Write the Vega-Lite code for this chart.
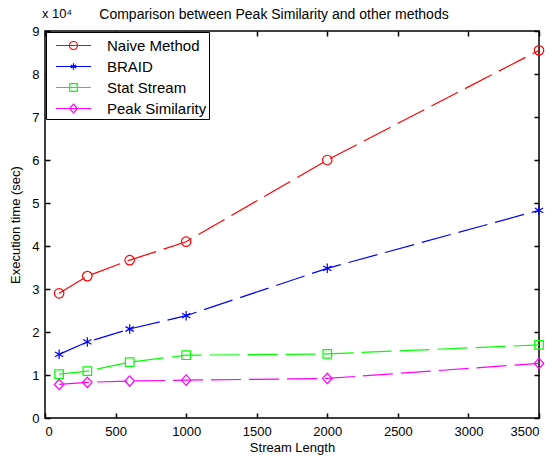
{
  "$schema": "https://vega.github.io/schema/vega-lite/v6.json",
  "width": 494,
  "height": 387,
  "autosize": {"type": "none"},
  "padding": {"left": 45, "top": 31, "right": 13, "bottom": 41},
  "background": "white",
  "config": {
    "font": "Liberation Sans",
    "view": {"stroke": "black", "strokeWidth": 1.5},
    "axis": {
      "grid": false,
      "domain": false,
      "tickColor": "black",
      "tickWidth": 1.5,
      "tickSize": -5,
      "labelColor": "black",
      "labelFont": "Liberation Sans",
      "labelFontSize": 13,
      "titleFont": "Liberation Sans",
      "titleFontSize": 13,
      "titleFontWeight": "normal",
      "titleColor": "black"
    },
    "legend": {
      "labelFont": "Liberation Sans",
      "labelFontSize": 15,
      "labelColor": "black"
    }
  },
  "title": {
    "text": "Comparison between Peak Similarity and other methods",
    "fontSize": 14,
    "fontWeight": "normal",
    "color": "black",
    "font": "Liberation Sans",
    "baseline": "alphabetic",
    "anchor": "middle",
    "dx": -18,
    "offset": 0,
    "dy": 25
  },
  "data": {
    "values": [
      {"method": "Naive Method", "length": 100, "time": 29000},
      {"method": "Naive Method", "length": 300, "time": 33000},
      {"method": "Naive Method", "length": 600, "time": 36700},
      {"method": "Naive Method", "length": 1000, "time": 41000},
      {"method": "Naive Method", "length": 2000, "time": 60000},
      {"method": "Naive Method", "length": 3500, "time": 85500},
      {"method": "BRAID", "length": 100, "time": 14800},
      {"method": "BRAID", "length": 300, "time": 17700},
      {"method": "BRAID", "length": 600, "time": 20700},
      {"method": "BRAID", "length": 1000, "time": 23800},
      {"method": "BRAID", "length": 2000, "time": 34800},
      {"method": "BRAID", "length": 3500, "time": 48300},
      {"method": "Stat Stream", "length": 100, "time": 10200},
      {"method": "Stat Stream", "length": 300, "time": 10900},
      {"method": "Stat Stream", "length": 600, "time": 13000},
      {"method": "Stat Stream", "length": 1000, "time": 14600},
      {"method": "Stat Stream", "length": 2000, "time": 14900},
      {"method": "Stat Stream", "length": 3500, "time": 17000},
      {"method": "Peak Similarity", "length": 100, "time": 7800},
      {"method": "Peak Similarity", "length": 300, "time": 8300},
      {"method": "Peak Similarity", "length": 600, "time": 8600},
      {"method": "Peak Similarity", "length": 1000, "time": 8800},
      {"method": "Peak Similarity", "length": 2000, "time": 9200},
      {"method": "Peak Similarity", "length": 3500, "time": 12700}
    ]
  },
  "resolve": {
    "scale": {"shape": "independent", "color": "independent"},
    "axis": {"x": "independent", "y": "independent"}
  },
  "layer": [
    {
      "mark": {"type": "line", "strokeWidth": 1.2, "strokeDash": [30, 8]},
      "encoding": {
        "x": {
          "field": "length", "type": "quantitative",
          "scale": {"domain": [0, 3500], "nice": false},
          "axis": {
            "values": [0, 500, 1000, 1500, 2000, 2500, 3000, 3500],
            "format": "d",
            "labelPadding": 12,
            "title": "Stream Length",
            "titlePadding": 3
          }
        },
        "y": {
          "field": "time", "type": "quantitative",
          "scale": {"domain": [0, 90000], "nice": false},
          "axis": {
            "values": [0, 10000, 20000, 30000, 40000, 50000, 60000, 70000, 80000, 90000],
            "labelExpr": "format(datum.value / 10000, 'd')",
            "labelPadding": 11,
            "title": "Execution time (sec)",
            "titlePadding": 9
          }
        },
        "detail": {"field": "method"},
        "color": {
          "field": "method", "type": "nominal",
          "scale": {
            "domain": ["Naive Method", "BRAID", "Stat Stream", "Peak Similarity"],
            "range": ["#ff0000", "#0000ff", "#00ff00", "#ff00ff"]
          },
          "legend": null
        }
      }
    },
    {
      "mark": {"type": "point", "filled": false, "strokeWidth": 1.2, "opacity": 1, "size": 90},
      "encoding": {
        "x": {
          "field": "length", "type": "quantitative",
          "scale": {"domain": [0, 3500], "nice": false},
          "axis": {
            "orient": "top",
            "values": [0, 500, 1000, 1500, 2000, 2500, 3000, 3500],
            "labels": false,
            "title": null
          }
        },
        "y": {
          "field": "time", "type": "quantitative",
          "scale": {"domain": [0, 90000], "nice": false},
          "axis": {
            "orient": "right",
            "values": [0, 10000, 20000, 30000, 40000, 50000, 60000, 70000, 80000, 90000],
            "labels": false,
            "title": null
          }
        },
        "color": {
          "field": "method", "type": "nominal",
          "scale": {
            "domain": ["Naive Method", "BRAID", "Stat Stream", "Peak Similarity"],
            "range": ["#ff0000", "#0000ff", "#00ff00", "#ff00ff"]
          },
          "legend": null
        },
        "shape": {
          "field": "method", "type": "nominal",
          "scale": {
            "domain": ["Naive Method", "BRAID", "Stat Stream", "Peak Similarity"],
            "range": [
              "M1,0A1,1 0 1,1 -1,0A1,1 0 1,1 1,0Z",
              "M0,-1L0,1M-0.87,-0.5L0.87,0.5M-0.87,0.5L0.87,-0.5",
              "M-0.9,-0.9L0.9,-0.9L0.9,0.9L-0.9,0.9Z",
              "M0,-1.1L1,0L0,1.1L-1,0Z"
            ]
          },
          "legend": null
        }
      }
    },
    {
      "mark": {"type": "point", "filled": false, "strokeWidth": 1.2, "opacity": 0},
      "encoding": {
        "x": {"field": "length", "type": "quantitative", "scale": {"domain": [0, 3500], "nice": false}, "axis": null},
        "y": {"field": "time", "type": "quantitative", "scale": {"domain": [0, 90000], "nice": false}, "axis": null},
        "color": {
          "field": "method", "type": "nominal",
          "scale": {
            "domain": ["Naive Method", "BRAID", "Stat Stream", "Peak Similarity"],
            "range": ["#ff0000", "#0000ff", "#00ff00", "#ff00ff"]
          },
          "legend": {
            "title": null,
            "orient": "top-left",
            "offset": 1,
            "padding": 2,
            "strokeColor": "black",
            "fillColor": "white",
            "symbolSize": 441,
            "symbolOffset": 14,
            "symbolOpacity": 1,
            "symbolStrokeWidth": 1.2,
            "symbolFillColor": "transparent",
            "labelOffset": 22,
            "rowPadding": 1
          }
        },
        "shape": {
          "field": "method", "type": "nominal",
          "scale": {
            "domain": ["Naive Method", "BRAID", "Stat Stream", "Peak Similarity"],
            "range": [
              "M-1.67,0L1.67,0M0.38,0A0.38,0.38 0 1,1 -0.38,0A0.38,0.38 0 1,1 0.38,0",
              "M-1.67,0L1.67,0M0,-0.3L0,0.3M-0.26,-0.15L0.26,0.15M-0.26,0.15L0.26,-0.15",
              "M-1.67,0L1.67,0M-0.36,-0.36L0.36,-0.36L0.36,0.36L-0.36,0.36Z",
              "M-1.67,0L1.67,0M0,-0.42L0.38,0L0,0.42L-0.38,0Z"
            ]
          },
          "legend": {
            "title": null,
            "orient": "top-left",
            "offset": 1,
            "padding": 2,
            "strokeColor": "black",
            "fillColor": "white",
            "symbolSize": 441,
            "symbolOffset": 14,
            "symbolOpacity": 1,
            "symbolStrokeWidth": 1.2,
            "symbolFillColor": "transparent",
            "labelOffset": 22,
            "rowPadding": 1
          }
        }
      }
    },
    {
      "data": {"values": [{"length": 0, "time": 90000, "label": "x 10⁴"}]},
      "mark": {"type": "text", "align": "left", "baseline": "alphabetic", "dx": -3, "dy": -13, "fontSize": 13, "font": "Liberation Sans", "color": "black"},
      "encoding": {
        "x": {"field": "length", "type": "quantitative", "scale": {"domain": [0, 3500], "nice": false}, "axis": null},
        "y": {"field": "time", "type": "quantitative", "scale": {"domain": [0, 90000], "nice": false}, "axis": null},
        "text": {"field": "label"}
      }
    }
  ]
}
